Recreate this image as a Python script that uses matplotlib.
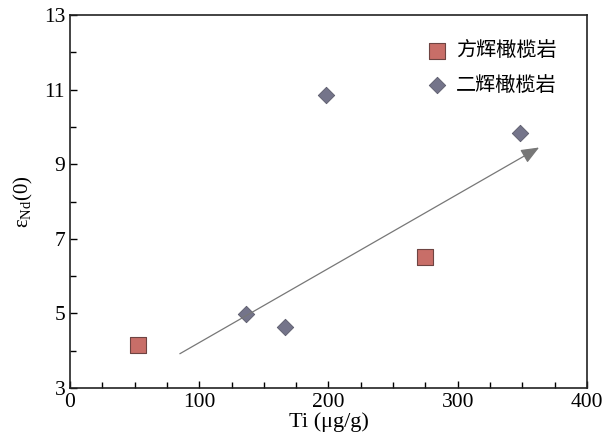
import matplotlib.pyplot as plt
import numpy as np

plt.rcParams['font.family'] = ['Liberation Serif', 'Noto Sans CJK SC']
plt.rcParams['mathtext.fontset'] = 'stix'

# data
opx_ti = [53, 275]
opx_eps = [4.15, 6.52]
cpx_ti = [136, 166, 198, 348]
cpx_eps = [4.98, 4.63, 10.87, 9.84]
arrow_start = (85, 3.92)
arrow_end = (363, 9.45)

fig = plt.figure(figsize=(6.06, 4.44), dpi=100)
ax = fig.add_axes([0.1155, 0.126, 0.853, 0.840])

ax.scatter(opx_ti, opx_eps, marker='s', s=140, c='#c86e68', edgecolors='#6e4442',
           linewidths=0.8, label='方辉橄榄岩', zorder=3)
ax.scatter(cpx_ti, cpx_eps, marker='D', s=70, c='#74748a', edgecolors='#5a5a6a',
           linewidths=0.6, label='二辉橄榄岩', zorder=3)

ax.annotate('', xy=arrow_end, xytext=arrow_start,
            arrowprops=dict(arrowstyle='-|>,head_length=1.1,head_width=0.45',
                            color='#777777', lw=0.9, shrinkA=0, shrinkB=0))

ax.set_xlim(0, 400)
ax.set_ylim(3, 13)
ax.set_xticks([0, 100, 200, 300, 400])
ax.set_xticks(np.arange(0, 401, 25), minor=True)
ax.set_yticks([3, 5, 7, 9, 11, 13])
ax.set_yticks([4, 6, 8, 10, 12], minor=True)
ax.tick_params(direction='in', which='major', length=5, width=1, labelsize=15.5)
ax.tick_params(direction='in', which='minor', length=4, width=1)
for sp in ax.spines.values():
    sp.set_linewidth(1.2)
    sp.set_color('#222222')

ax.set_xlabel('Ti (μg/g)', fontsize=16, labelpad=0)
ax.set_ylabel(r'$\mathregular{ε_{Nd}}$(0)', fontsize=15, labelpad=6)

leg = ax.legend(loc='upper left', bbox_to_anchor=(0.69, 0.932), frameon=False,
                handlelength=1.0, handletextpad=0.45, labelspacing=0.65,
                borderpad=0, borderaxespad=0,
                prop={'family': ['Noto Sans CJK SC'], 'size': 14.5})

fig.savefig('out.png', dpi=100)
